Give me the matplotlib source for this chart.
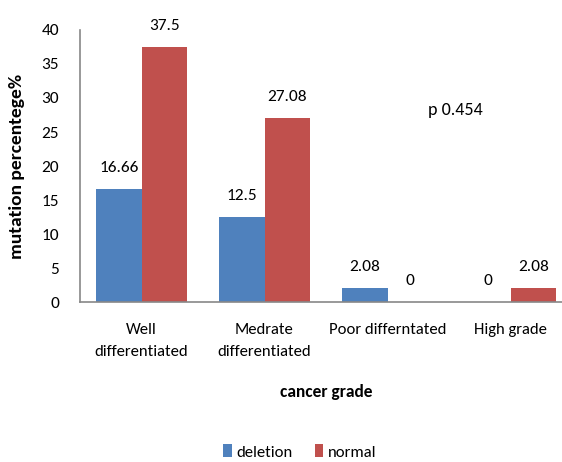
import matplotlib
matplotlib.use("Agg")
import numpy as np
import matplotlib.pyplot as plt

plt.rcParams["font.family"] = ["Carlito", "DejaVu Sans"]

grades = ["Well\ndifferentiated", "Medrate\ndifferentiated", "Poor differntated", "High grade"]
deletion = [16.66, 12.5, 2.08, 0]
normal = [37.5, 27.08, 0, 2.08]
deletion_labels = ["16.66", "12.5", "2.08", "0"]
normal_labels = ["37.5", "27.08", "0", "2.08"]

blue = "#4F81BD"
red = "#C0504D"

fig = plt.figure(figsize=(5.62, 4.62), dpi=100)
ax = fig.add_axes([80 / 562, 160 / 462, 492 / 562, 272 / 462])

x = np.arange(len(grades))
w = 0.37
ax.bar(x - w / 2, deletion, w, color=blue, label="deletion")
ax.bar(x + w / 2, normal, w, color=red, label="normal")

for xi, v, t in zip(x - w / 2, deletion, deletion_labels):
    ax.text(xi, v + 2.0, t, ha="center", va="bottom", fontsize=12.5)
for xi, v, t in zip(x + w / 2, normal, normal_labels):
    ax.text(xi, v + 2.0, t, ha="center", va="bottom", fontsize=12.5)

ax.set_xlim(-0.5, 3.5)
ax.set_ylim(0, 40)
ax.set_yticks(range(0, 41, 5))
ax.set_xticks(x)
ax.set_xticklabels(grades, fontsize=12, linespacing=1.7)
ax.tick_params(axis="y", labelsize=12.5, length=0, pad=15)
ax.tick_params(axis="x", length=0, pad=15)

for side in ["top", "right"]:
    ax.spines[side].set_visible(False)
for side in ["left", "bottom"]:
    ax.spines[side].set_color("#888888")
    ax.spines[side].set_linewidth(1.2)

ax.text(2.33, 28.2, "p 0.454", fontsize=13, va="center")

ax.set_ylabel("mutation percentege%", fontsize=14, fontweight="bold", labelpad=12)
ax.set_xlabel("cancer grade", fontsize=12.5, fontweight="bold", labelpad=18)

fig.legend(loc="center", bbox_to_anchor=(300 / 562, 1 - 452 / 462), ncol=2, frameon=False,
           fontsize=12, handlelength=0.5, handleheight=0.8, handletextpad=0.3,
           columnspacing=1.3)

fig.savefig("out.png", dpi=100)
